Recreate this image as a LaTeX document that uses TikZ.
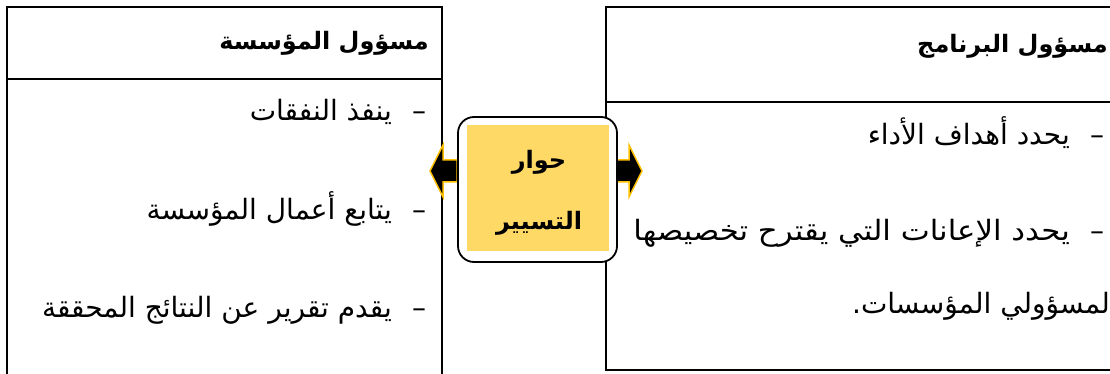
\documentclass[tikz,border=0pt]{standalone}
\usepackage{fontspec}
\TeXXeTstate=1
\newfontfamily\arabicfont[Script=Arabic]{DejaVu Sans}
\definecolor{boxyellow}{HTML}{FFD966}
\definecolor{arrowgold}{HTML}{FFC000}
\tikzset{
  frame/.style={line width=1.3pt, draw=black},
  txt/.style={anchor=base east, inner sep=0pt, font=\arabicfont\fontsize{28}{32}\selectfont},
  head/.style={anchor=base east, inner sep=0pt, font=\arabicfont\bfseries\fontsize{24}{28}\selectfont},
  ctxt/.style={anchor=base, inner sep=0pt, font=\arabicfont\bfseries\fontsize{24}{28}\selectfont},
  dashmark/.style={anchor=base, inner sep=0pt, font=\arabicfont\fontsize{28}{32}\selectfont},
  goldarrow/.style={fill=black, draw=arrowgold, line width=1.5pt, line join=miter},
}
\begin{document}
\begin{tikzpicture}[x=1pt,y=-1pt]
\useasboundingbox (0,0) rectangle (1110,374);
% left box
\draw[frame] (7,374) -- (7,7) -- (442,7) -- (442,374);
\draw[frame] (7,79) -- (442,79);
% right box
\draw[frame] (1110,7) -- (606,7) -- (606,370) -- (1110,370);
\draw[frame] (606,102) -- (1110,102);
% headers
\node[head] (hl) at (429,50) {\beginR مسؤول المؤسسة\endR};
\node[head] (hr) at (1108,53) {\beginR مسؤول البرنامج\endR};
% left items
\node[dashmark] (dl1) at (419,121) {–};
\node[txt] (l1) at (392,121) {\beginR ينفذ النفقات\endR};
\node[dashmark] (dl2) at (419,219) {–};
\node[txt] (l2) at (392,219) {\beginR يتابع أعمال المؤسسة\endR};
\node[dashmark] (dl3) at (419,317) {–};
\node[txt] (l3) at (392,317) {\beginR يقدم تقرير عن النتائج المحققة\endR};
% right items
\node[dashmark] (dr1) at (1097,145) {–};
\node[txt] (r1) at (1070,145) {\beginR يحدد أهداف الأداء\endR};
\node[dashmark] (dr2) at (1097,240) {–};
\node[txt, xscale=1.1] (r2) at (1070,240) {\beginR يحدد الإعانات التي يقترح تخصيصها\endR};
\node[txt] (r3) at (1110,313) {\beginR لمسؤولي المؤسسات.\endR};
% arrows
\draw[goldarrow] (457,160) -- (443,160) -- (443,145) -- (430,171) -- (443,197) -- (443,182) -- (457,182) -- cycle;
\draw[goldarrow] (616,160) -- (629,160) -- (629,145) -- (642,171) -- (629,197) -- (629,182) -- (616,182) -- cycle;
% center box
\node[draw=black, line width=1.8pt, fill=white, rounded corners=16pt, minimum width=159pt, minimum height=145pt, inner sep=0pt] (cb) at (537.5,189.5) {};
\fill[boxyellow] (467,125) rectangle (609,251);
\node[ctxt] (c1) at (539,168) {\beginR حوار\endR};
\node[ctxt] (c2) at (539,229) {\beginR التسيير\endR};
\end{tikzpicture}
\end{document}
